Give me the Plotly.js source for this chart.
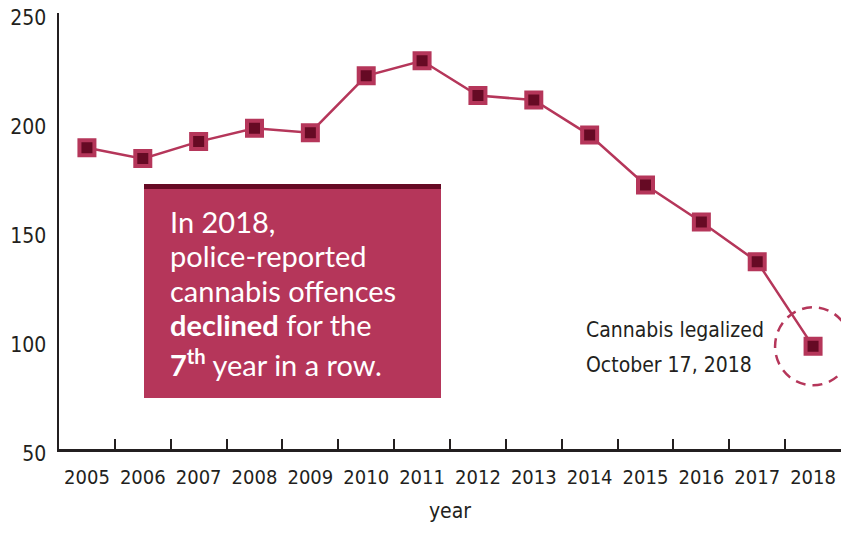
<!DOCTYPE html>
<html>
<head>
<meta charset="utf-8">
<script src="https://cdn.plot.ly/plotly-3.0.1.min.js"></script>
<style>
html,body{margin:0;padding:0;background:#fff;}
#chart{width:841px;height:533px;}
</style>
</head>
<body>
<div id="chart"></div>
<script>
// Data
var years = ["2005","2006","2007","2008","2009","2010","2011","2012","2013","2014","2015","2016","2017","2018"];
var offences = [188.2, 183.2, 191.0, 197.1, 195.1, 221.2, 228.1, 212.1, 210.1, 194.0, 171.1, 154.1, 135.9, 97.1];
var yTicks = [50, 100, 150, 200, 250];
var boxLines = ["In 2018,", "police-reported", "cannabis offences", "<b>declined</b> for the", "<b>7<sup>th</sup></b> year in a row."];
var noteLines = ["Cannabis legalized", "October 17, 2018"];
var xTitle = "year";

var RED = "#b5365a";
var DARK = "#660a24";
var INK = "#231f20";
var NARROW = "'Liberation Sans Narrow', 'DejaVu Sans Condensed', 'Arial Narrow', sans-serif";
var BOXFONT = "Lato, 'Open Sans', sans-serif";

var trace = {
  x: years,
  y: offences,
  type: "scatter",
  mode: "lines+markers",
  line: {color: RED, width: 2.5},
  marker: {symbol: "square", size: 15, color: DARK, line: {color: RED, width: 4}},
  cliponaxis: false,
  hoverinfo: "x+y"
};

var lastVal = offences[offences.length - 1];

// layout helpers (pixel -> paper)
var PL = 59, PW = 782, PB = 449, PH = 436;
function px(x) { return (x - PL) / PW; }
function py(y) { return (PB - y) / PH; }

var boxLineY = [222, 255, 290, 324, 363];
var noteLineY = [330, 365];

var annotations = [];
boxLines.forEach(function (t, i) {
  annotations.push({
    xref: "paper", yref: "paper",
    x: px(168), y: py(boxLineY[i]),
    xanchor: "left", yanchor: "middle", align: "left",
    showarrow: false, text: t,
    font: {family: BOXFONT, size: 29, color: "#ffffff"}
  });
});
noteLines.forEach(function (t, i) {
  annotations.push({
    xref: "paper", yref: "paper",
    x: px(584), y: py(noteLineY[i]),
    xanchor: "left", yanchor: "middle", align: "left",
    showarrow: false, text: t,
    font: {family: NARROW, size: 21, color: INK}
  });
});

var layout = {
  width: 841,
  height: 533,
  margin: {l: 59, r: 0, t: 13, b: 84},
  paper_bgcolor: "#ffffff",
  plot_bgcolor: "#ffffff",
  showlegend: false,
  font: {family: NARROW, color: INK},
  xaxis: {
    type: "category",
    range: [-0.5, 13.5],
    showline: true,
    linecolor: INK,
    linewidth: 2.5,
    showgrid: false,
    zeroline: false,
    ticks: "inside",
    tickson: "boundaries",
    ticklen: 10,
    tickwidth: 2,
    tickcolor: INK,
    tickangle: 0,
    tickfont: {family: NARROW, size: 20, color: INK},
    ticklabelstandoff: 8,
    title: {text: xTitle, font: {family: NARROW, size: 21, color: INK}, standoff: 16},
    fixedrange: true
  },
  yaxis: {
    range: [50, 250],
    tickvals: yTicks,
    ticktext: yTicks.map(String),
    showline: true,
    linecolor: INK,
    linewidth: 2.5,
    showgrid: false,
    zeroline: false,
    ticks: "",
    tickfont: {family: NARROW, size: 21, color: INK},
    ticklabelstandoff: 6,
    ticklabelshift: 5,
    fixedrange: true
  },
  shapes: [
    {
      type: "rect", xref: "paper", yref: "paper", layer: "above",
      x0: px(144), x1: px(441), y0: py(398), y1: py(189),
      fillcolor: RED, line: {width: 0}
    },
    {
      type: "rect", xref: "paper", yref: "paper", layer: "above",
      x0: px(144), x1: px(441), y0: py(189), y1: py(184),
      fillcolor: DARK, line: {width: 0}
    },
    {
      type: "circle", layer: "below",
      xref: "x", yref: "y",
      xsizemode: "pixel", ysizemode: "pixel",
      xanchor: years.length - 1, yanchor: lastVal,
      x0: -38, x1: 38, y0: -39, y1: 39,
      line: {color: RED, width: 2.5, dash: "10px,7px"},
      fillcolor: "rgba(0,0,0,0)"
    }
  ],
  annotations: annotations
};

Plotly.newPlot("chart", [trace], layout, {displayModeBar: false, staticPlot: true});
</script>
</body>
</html>
